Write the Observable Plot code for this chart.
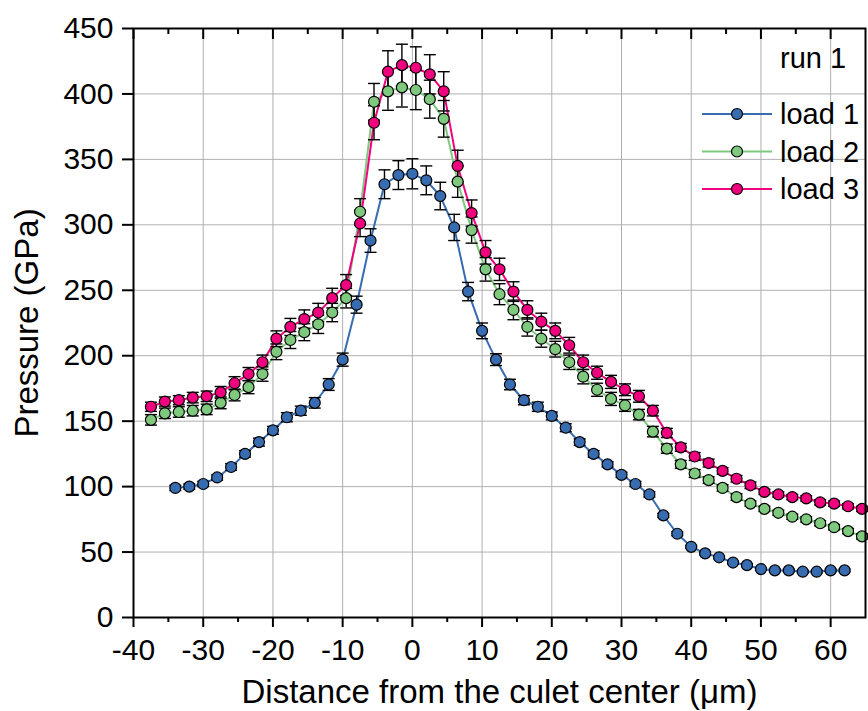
<!DOCTYPE html>
<html><head><meta charset="utf-8">
<script src="https://cdn.jsdelivr.net/npm/d3@7"></script>
<script src="https://cdn.jsdelivr.net/npm/@observablehq/plot@0.6"></script>
<style>body{margin:0;background:#fff;} svg{display:block;}</style>
</head><body><div id="chart"></div>
<script>
const seriesNames = ["load 1", "load 2", "load 3"];
const colors = ["#386cb0", "#7fc97f", "#f0027f"];
const runLabel = "run 1";
const xTitle = "Distance from the culet center (\u03bcm)";
const yTitle = "Pressure (GPa)";

const xTicks = [-40, -30, -20, -10, 0, 10, 20, 30, 40, 50, 60];
const xMinorTicks = [-35, -25, -15, -5, 5, 15, 25, 35, 45, 55];
const yTicks = [0, 50, 100, 150, 200, 250, 300, 350, 400, 450];

const load1X = [-34,-32,-30,-28,-26,-24,-22,-20,-18,-16,-14,-12,-10,-8,-6,-4,-2,0,2,4,6,8,10,12,14,16,18,20,22,24,26,28,30,32,34,36,38,40,42,44,46,48,50,52,54,56,58,60,62];
const load1P = [99,100,102,107,115,125,134,143,153,158,164,178,197,239,288,331,338,339,334,322,298,249,219,197,178,166,161,154,145,134,125,117,109,102,94,78,64,54,49,46,42,40,37,36,36,35,35,36,36];
const load1E = [2,2,2,2,2.5,2.5,3,3,3.5,3.5,4,4.5,5,6.5,9,11,11,11.5,11,10.5,10,7,6,4.5,4,3.5,3.5,3,3,2.5,2.5,2,2,2,2,1.5,1.5,1,1,1,1,1,1,1,1,1,1,1,1];

const load2X = [-37.5,-35.5,-33.5,-31.5,-29.5,-27.5,-25.5,-23.5,-21.5,-19.5,-17.5,-15.5,-13.5,-11.5,-9.5,-7.5,-5.5,-3.5,-1.5,0.5,2.5,4.5,6.5,8.5,10.5,12.5,14.5,16.5,18.5,20.5,22.5,24.5,26.5,28.5,30.5,32.5,34.5,36.5,38.5,40.5,42.5,44.5,46.5,48.5,50.5,52.5,54.5,56.5,58.5,60.5,62.5,64.5];
const load2P = [151,156,157,158,159,164,170,176,186,203,212,218,224,233,244,310,394,402,405,403,396,381,333,296,266,247,235,222,213,205,195,184,174,167,162,155,142,129,117,110,105,99,92,87,83,80,77,75,72,69,66,62];
const load2E = [4,4,4,4,4,4.5,4.5,5,5.5,6,6.5,6.5,7,7,7.5,10,14,14.5,15,15,14.5,14,12,10,9,8,7.5,7,6.5,6,5.5,5.5,5,5,4.5,4,4,3.5,3,3,2.5,2.5,2.5,2,2,2,2,2,2,2,2,2];

const load3X = [-37.5,-35.5,-33.5,-31.5,-29.5,-27.5,-25.5,-23.5,-21.5,-19.5,-17.5,-15.5,-13.5,-11.5,-9.5,-7.5,-5.5,-3.5,-1.5,0.5,2.5,4.5,6.5,8.5,10.5,12.5,14.5,16.5,18.5,20.5,22.5,24.5,26.5,28.5,30.5,32.5,34.5,36.5,38.5,40.5,42.5,44.5,46.5,48.5,50.5,52.5,54.5,56.5,58.5,60.5,62.5,64.5];
const load3P = [161,165,166,168,169,172,179,186,195,213,222,228,233,244,254,301,378,417,422,420,415,402,345,309,279,266,249,235,226,219,208,195,187,180,174,169,158,141,130,123,118,112,106,101,96,94,92,91,88,87,85,83];
const load3E = [3.5,3.5,3.5,4,4,4.5,5,5,5.5,6,6.5,7,7,7.5,8,10,13,16,16,16,15,15,12,10,9,8.5,7.5,7,6.5,6,6,5.5,5,5,4.5,4.5,4,3.5,3,3,3,2.5,2.5,2.5,2,2,2,2,2,2,2,2];

const data = [];
[[load1X, load1P, load1E], [load2X, load2P, load2E], [load3X, load3P, load3E]].forEach(([xs, ps, es], i) => {
  xs.forEach((x, j) => data.push({series: seriesNames[i], x, p: ps[j], e: es[j]}));
});

const capSymbol = {draw(ctx, size) { const r = Math.sqrt(size / Math.PI); ctx.moveTo(-r, 0); ctx.lineTo(r, 0); }};
const FONT = "Arial, 'Liberation Sans', sans-serif";
const gridStyle = {stroke: "#b0b0b0", strokeOpacity: 1, strokeWidth: 1};

const plot = Plot.plot({
  width: 868, height: 711,
  marginLeft: 133, marginRight: 3, marginTop: 28, marginBottom: 94,
  style: {fontFamily: FONT, background: "#fff", color: "#000"},
  x: {domain: [-40, 65]},
  y: {domain: [0, 450]},
  color: {domain: seriesNames, range: colors},
  marks: [
    Plot.gridX(xTicks.filter(t => t > -40), gridStyle),
    Plot.gridY(yTicks.filter(t => t > 0 && t < 450), gridStyle),
    Plot.line(data, {x: "x", y: "p", z: "series", stroke: "series", strokeWidth: 2}),
    Plot.ruleX(data, {x: "x", y1: d => d.p - d.e, y2: d => d.p + d.e, stroke: "black", strokeWidth: 1.4}),
    Plot.dot(data, {x: "x", y: d => d.p + d.e, symbol: capSymbol, r: 6, fill: "none", stroke: "black", strokeWidth: 1.4}),
    Plot.dot(data, {x: "x", y: d => d.p - d.e, symbol: capSymbol, r: 6, fill: "none", stroke: "black", strokeWidth: 1.4}),
    Plot.dot(data, {x: "x", y: "p", fill: "series", stroke: "black", strokeWidth: 1.2, r: 5.5}),
    Plot.frame({stroke: "black", strokeWidth: 2}),
    Plot.axisX(xTicks, {anchor: "bottom", tickSize: 10, tickPadding: 11, fontSize: 30, strokeWidth: 2, label: null, tickFormat: d => String(d)}),
    Plot.axisX(xMinorTicks, {anchor: "bottom", tickSize: 5, strokeWidth: 2, label: null, tickFormat: () => ""}),
    Plot.axisX(xTicks, {anchor: "top", tickSize: 10, dy: 10, strokeWidth: 2, label: null, tickFormat: () => ""}),
    Plot.axisX(xMinorTicks, {anchor: "top", tickSize: 5, dy: 5, strokeWidth: 2, label: null, tickFormat: () => ""}),
    Plot.axisY(yTicks, {anchor: "left", tickSize: 11, tickPadding: 9, fontSize: 30, strokeWidth: 2, label: null, tickFormat: d => String(d)}),
    Plot.text([xTitle], {text: d => d, frameAnchor: "bottom", dy: 75, fontSize: 33, lineAnchor: "middle", textAnchor: "middle"}),
    Plot.text([yTitle], {text: d => d, frameAnchor: "left", dx: -106, rotate: -90, fontSize: 33, lineAnchor: "middle", textAnchor: "middle"})
  ]
});

// legend inside the plot (top-right)
const svg = d3.select(plot);
const g = svg.append("g").attr("font-family", FONT).attr("font-size", 29).attr("fill", "#000").attr("text-anchor", "start");
g.append("text").attr("x", 780).attr("y", 58).attr("dy", "0.35em").text(runLabel);
seriesNames.forEach((s, i) => {
  const y = 114 + i * 37.5;
  g.append("line").attr("x1", 702).attr("x2", 772).attr("y1", y).attr("y2", y).attr("stroke", colors[i]).attr("stroke-width", 2);
  g.append("circle").attr("cx", 737).attr("cy", y).attr("r", 5.5).attr("fill", colors[i]).attr("stroke", "black").attr("stroke-width", 1.2);
  g.append("text").attr("x", 780).attr("y", y).attr("dy", "0.35em").text(s);
});

document.getElementById("chart").appendChild(plot);
</script>
</body></html>
